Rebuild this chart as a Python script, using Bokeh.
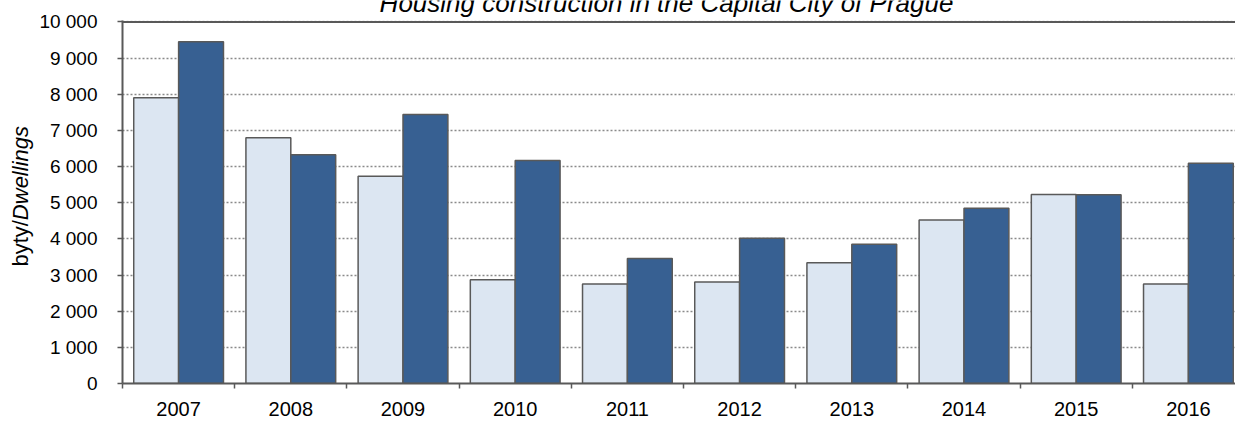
import numpy as np
from bokeh.plotting import figure
from bokeh.layouts import row, column
from bokeh.models import ColumnDataSource, Range1d, FixedTicker, Span
from bokeh.core.properties import value
from bokeh.transform import dodge
from bokeh.embed import file_html
from bokeh.resources import INLINE

# ---- data ----
years = ["2007", "2008", "2009", "2010", "2011", "2012", "2013", "2014", "2015", "2016"]
series_light = [7900, 6800, 5730, 2870, 2750, 2810, 3340, 4520, 5230, 2750]
series_dark = [9450, 6330, 7440, 6170, 3460, 4020, 3850, 4850, 5220, 6090]
y_ticks = [0, 1000, 2000, 3000, 4000, 5000, 6000, 7000, 8000, 9000, 10000]
y_tick_labels = ["0", "1 000", "2 000", "3 000", "4 000", "5 000", "6 000",
                 "7 000", "8 000", "9 000", "10 000"]
title_text = "Housing construction in the Capital City of Prague"
ylabel_plain = "byty/"
ylabel_italic = "Dwellings"

# ---- layout constants (page px) ----
W, H = 1235, 421
TOP_H = 20                # title strip height (overlaid on the chart's top border)
LEFT_W = 35               # y-label strip width
FL, FT, FB = 122, 20, 383  # frame left, top, bottom
CAT_W = 112.2             # px per category
FONT = "Liberation Sans"
AX = "#595959"


def strip(width, height):
    f = figure(width=width, height=height, output_backend="svg", toolbar_location=None,
               x_range=Range1d(0, width), y_range=Range1d(height, 0),
               x_axis_type=None, y_axis_type=None,
               min_border_left=0, min_border_right=0, min_border_top=0, min_border_bottom=0)
    f.outline_line_color = None
    f.grid.visible = False
    f.background_fill_color = None
    f.border_fill_color = None
    return f


# ---- title strip (cut at the top edge, as in the reference) ----
TITLE_FS = 26
top = strip(W, TOP_H)
top.text(x=[666], y=[11.7 - 0.3465 * TITLE_FS], text=[title_text], text_font=value(FONT),
         text_font_size=f"{TITLE_FS}px", text_font_style="italic", text_align="center",
         text_baseline="middle", text_color="black")
top.styles = {"margin-bottom": f"-{TOP_H}px", "position": "relative", "z-index": "2"}

# ---- y-label strip: both parts share one anchor (the junction) ----
left = strip(LEFT_W, H)
YL_FS = 22
YL_BASE_X, YL_BOTTOM = 28, 278
junction = YL_BOTTOM - 2.112 * YL_FS
xc = YL_BASE_X - 0.3465 * YL_FS
left.text(x=[xc], y=[junction], text=[ylabel_plain], angle=np.pi / 2,
          text_font=value(FONT), text_font_size=f"{YL_FS}px", text_align="right",
          text_baseline="middle", text_color="black")
left.text(x=[xc], y=[junction], text=[ylabel_italic], angle=np.pi / 2,
          text_font=value(FONT), text_font_size=f"{YL_FS}px", text_font_style="italic",
          text_align="left", text_baseline="middle", text_color="black")

# ---- main chart ----
centers = [i + 0.5 for i in range(len(years))]
src = ColumnDataSource(dict(x=centers, light=series_light, dark=series_dark))

p = figure(width=W - LEFT_W, height=H, output_backend="svg", toolbar_location=None,
           x_range=Range1d(0, (W - FL) / CAT_W), y_range=Range1d(0, 10040),
           min_border_left=FL - LEFT_W, min_border_right=0, min_border_top=FT,
           min_border_bottom=H - FB)
p.outline_line_color = None
p.background_fill_color = "white"
p.border_fill_color = None

p.xgrid.visible = False
p.ygrid.ticker = FixedTicker(ticks=y_ticks)
p.ygrid.grid_line_color = "#8a8a8a"
p.ygrid.grid_line_dash = "2 2"
p.ygrid.grid_line_width = 1.5

p.vbar(x=dodge("x", -0.2), top="light", width=0.4, bottom=0, source=src,
       fill_color="#dce6f2", line_color=AX, line_width=1.5)
p.vbar(x=dodge("x", 0.2), top="dark", width=0.4, bottom=0, source=src,
       fill_color="#376092", line_color=AX, line_width=1.5)

p.add_layout(Span(location=10000, dimension="width", line_color=AX, line_width=2))

ya = p.yaxis[0]
ya.ticker = FixedTicker(ticks=y_ticks)
ya.major_label_overrides = {t: l for t, l in zip(y_ticks, y_tick_labels)}
ya.axis_line_color = AX
ya.axis_line_width = 2
ya.major_tick_line_color = AX
ya.major_tick_line_width = 1.5
ya.major_tick_out = 5
ya.major_tick_in = 0
ya.minor_tick_line_color = None
ya.major_label_standoff = 20
ya.major_label_text_font = FONT
ya.major_label_text_font_size = "19px"
ya.major_label_text_color = "black"

xa = p.xaxis[0]
xa.ticker = FixedTicker(ticks=centers, minor_ticks=list(range(len(years) + 1)))
xa.major_label_overrides = {c: y for c, y in zip(centers, years)}
xa.axis_line_color = AX
xa.axis_line_width = 2
xa.major_tick_line_color = None
xa.major_tick_out = 0
xa.major_tick_in = 0
xa.minor_tick_line_color = AX
xa.minor_tick_line_width = 1.5
xa.minor_tick_out = 5
xa.minor_tick_in = 0
xa.major_label_standoff = 13
xa.major_label_text_font = FONT
xa.major_label_text_font_size = "20px"
xa.major_label_text_color = "black"

layout = column(top, row(left, p, spacing=0), spacing=0)
open("out.html", "w").write(file_html(layout, INLINE))
